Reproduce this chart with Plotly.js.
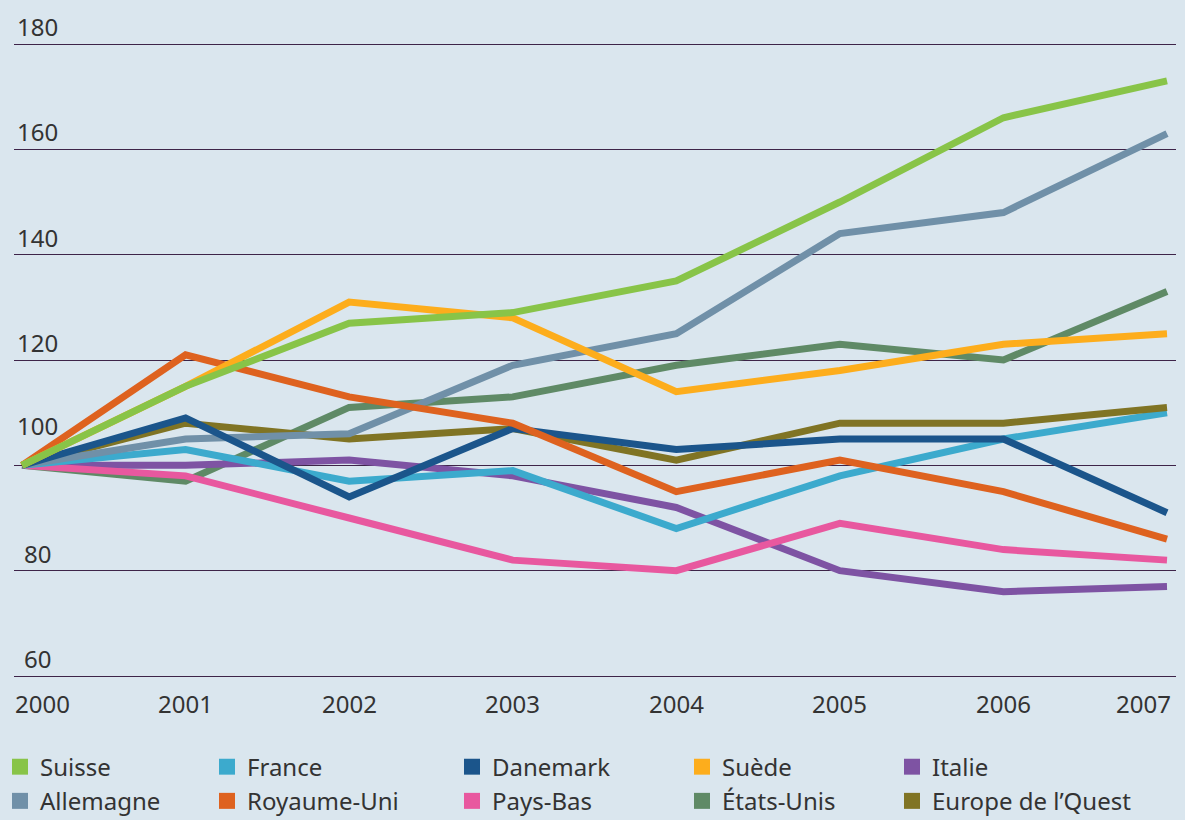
<!DOCTYPE html>
<html>
<head>
<meta charset="utf-8">
<script src="https://cdn.plot.ly/plotly-3.0.1.min.js"></script>
<style>html,body{margin:0;padding:0;background:#dae6ee;}#chart{width:1185px;height:820px;}</style>
</head>
<body>
<div id="chart"></div>
<script>
const years = [2000, 2001, 2002, 2003, 2004, 2005, 2006, 2007];
const yearLabels = ["2000", "2001", "2002", "2003", "2004", "2005", "2006", "2007"];
const yTicks = [60, 80, 100, 120, 140, 160, 180];

const suisse      = [100, 115, 127, 129, 135, 150, 166, 173];
const france      = [100, 103, 97, 99, 88, 98, 105, 110];
const danemark    = [100, 109, 94, 107, 103, 105, 105, 91];
const suede       = [100, 115, 131, 128, 114, 118, 123, 125];
const italie      = [100, 100, 101, 98, 92, 80, 76, 77];
const allemagne   = [100, 105, 106, 119, 125, 144, 148, 163];
const royaumeUni  = [100, 121, 113, 108, 95, 101, 95, 86];
const paysBas     = [100, 98, 90, 82, 80, 89, 84, 82];
const etatsUnis   = [100, 97, 111, 113, 119, 123, 120, 133];
const europeOuest = [100, 108, 105, 107, 101, 108, 108, 111];

// legend columns (top row, bottom row)
const legendColumns = [
  ["Suisse", "Allemagne"],
  ["France", "Royaume-Uni"],
  ["Danemark", "Pays-Bas"],
  ["Suède", "États-Unis"],
  ["Italie", "Europe de l’Quest"]
];

const series = {
  "Suisse": {y: suisse, c: "#88c448"},
  "France": {y: france, c: "#3caacd"},
  "Danemark": {y: danemark, c: "#1b558b"},
  "Suède": {y: suede, c: "#fdad1c"},
  "Italie": {y: italie, c: "#7e53a3"},
  "Allemagne": {y: allemagne, c: "#7090a8"},
  "Royaume-Uni": {y: royaumeUni, c: "#de621f"},
  "Pays-Bas": {y: paysBas, c: "#e8589f"},
  "États-Unis": {y: etatsUnis, c: "#5f8a66"},
  "Europe de l’Quest": {y: europeOuest, c: "#807424"}
};

const drawOrder = ["États-Unis", "Italie", "Pays-Bas", "France", "Europe de l’Quest",
                   "Allemagne", "Danemark", "Royaume-Uni", "Suède", "Suisse"];

const traces = [];
drawOrder.forEach(n => {
  traces.push({x: years, y: series[n].y, mode: "lines", name: n, showlegend: false,
    line: {color: series[n].c, width: 7}, hoverinfo: "skip"});
});
const legendNames = ["legend", "legend2", "legend3", "legend4", "legend5"];
legendColumns.forEach((col, ci) => {
  col.forEach(n => {
    traces.push({x: [null], y: [null], mode: "markers", name: n, showlegend: true,
      legend: legendNames[ci], marker: {symbol: "square", size: 16, color: series[n].c}});
  });
});

const font = {family: "Noto Sans, Open Sans, sans-serif", color: "#333333"};
const annotations = [];
years.forEach((yr, i) => {
  const first = i === 0, last = i === years.length - 1;
  annotations.push({x: yr, xref: "x", y: 0, yref: "paper", text: yearLabels[i], showarrow: false,
    xanchor: first ? "left" : (last ? "right" : "center"), xshift: first ? -9 : (last ? 6 : 0),
    yanchor: "top", yshift: -5, font: Object.assign({size: 24}, font)});
});
yTicks.forEach(v => {
  annotations.push({x: 0.0198, xref: "paper", y: v, yref: "y", text: String(v), showarrow: false,
    xanchor: "center", yanchor: "bottom", yshift: v === 100 ? 21 : -1, font: Object.assign({size: 24}, font)});
});

const layout = {
  width: 1185, height: 820,
  paper_bgcolor: "#dae6ee", plot_bgcolor: "#dae6ee",
  margin: {l: 14, r: 9, t: 30, b: 140, autoexpand: false},
  xaxis: {range: [1999.951, 2007.055], showgrid: false, zeroline: false, showticklabels: false, ticks: ""},
  yaxis: {range: [59.24, 182.66], tickvals: yTicks, showticklabels: false, showgrid: true,
          gridcolor: "#3d2448", gridwidth: 1, zeroline: false, ticks: ""},
  showlegend: true,
  annotations: annotations
};
const legendX = [0, 207, 452, 682, 892];
legendNames.forEach((ln, i) => {
  layout[ln] = {orientation: "v", xref: "container", yref: "container", x: legendX[i] / 1185, xanchor: "left",
    y: 0.092, yanchor: "top", traceorder: "normal", tracegroupgap: 0, itemwidth: 30,
    bgcolor: "rgba(0,0,0,0)", font: Object.assign({size: 24}, font)};
});

Plotly.newPlot("chart", traces, layout, {displayModeBar: false, staticPlot: true});
</script>
</body>
</html>
